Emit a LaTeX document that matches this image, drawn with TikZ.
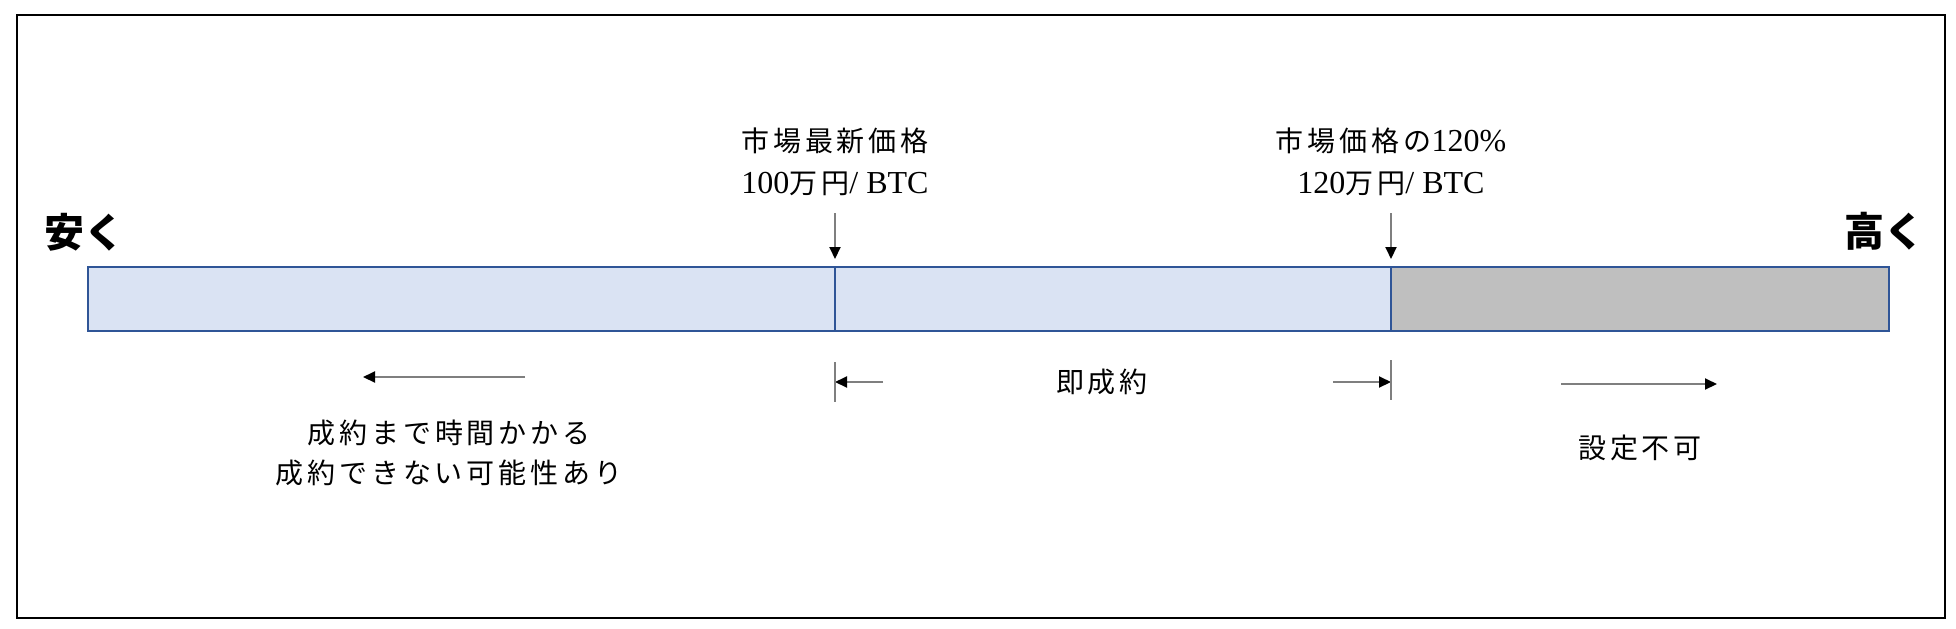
\documentclass[tikz,border=0pt]{standalone}
\usepackage{fontspec}
\setmainfont{Liberation Serif}
\newfontfamily\jpfont[LetterSpace=14]{Noto Sans CJK JP}
\newfontfamily\jphead{Noto Sans CJK JP}
\usetikzlibrary{arrows.meta,positioning}
\definecolor{barblue}{HTML}{DAE3F3}
\definecolor{barline}{HTML}{2F5597}
\definecolor{bargray}{HTML}{BFBFBF}
\definecolor{arrgray}{HTML}{7F7F7F}
\tikzset{>={Triangle[length=6pt,width=5.5pt,color=black]}}
\tikzset{seg/.style={shape=rectangle, draw=barline, line width=1.1pt, fill=barblue,
    inner sep=0pt, outer sep=0pt, minimum width=#1, minimum height=32pt}}
\tikzset{pointer/.style={->, draw=arrgray, line width=1pt}}
\tikzset{endmark/.style={draw=arrgray, line width=1pt}}
\tikzset{lab/.style={font=\fontsize{16}{21}\selectfont, align=center, inner sep=0pt}}
\tikzset{note/.style={font=\jpfont\fontsize{14}{20}\selectfont, align=center, inner sep=0pt}}
\tikzset{side/.style={font=\jphead\bfseries\fontsize{20}{24}\selectfont, inner sep=0pt}}

\begin{document}
\begin{tikzpicture}[x=0.5pt, y=-0.5pt]
  \useasboundingbox (0,0) rectangle (1956,628);
    \draw[line width=1pt] (17,15) rectangle (1945,618);

    %%%% price bar
    \node[seg=373.5pt](s1) at (461.5,299) {};
    \node[seg=278pt](s2) [right=0pt of s1] {};
    \node[seg=249pt, fill=bargray](s3) [right=0pt of s2] {};

    \node[side](cheap) at (84,232) {安く};
    \node[side](dear)  at (1884,231) {高く};

    %%%% price marks
    \node[lab](now) at (835,162) {{\jpfont\fontsize{14}{21}\selectfont 市場最新価格}\\100{\jpfont\fontsize{14}{21}\selectfont 万円}/ BTC};
    \node[lab](cap) at (1391,162) {{\jpfont\fontsize{14}{21}\selectfont 市場価格の}120\%\\120{\jpfont\fontsize{14}{21}\selectfont 万円}/ BTC};
    \coordinate (now top) at (835,213);
    \coordinate (cap top) at (1391,213);
    \draw [pointer, shorten >=4pt] (now top) to (s1.north east);
    \draw [pointer, shorten >=4pt] (cap top) to (s2.north east);

    %%%% ranges
    \coordinate (l1) at (525,377);
    \coordinate (l2) at (363,377);
    \coordinate (m1) at (883,382);
    \coordinate (m2) at (835,382);
    \coordinate (m3) at (1333,382);
    \coordinate (m4) at (1391,382);
    \coordinate (r1) at (1561,384);
    \coordinate (r2) at (1717,384);
    \coordinate (k1) at (835,362);
    \coordinate (k2) at (835,402);
    \coordinate (k3) at (1391,360);
    \coordinate (k4) at (1391,400);

    \draw [pointer] (l1) to (l2);
    \draw [pointer] (m1) to (m2);
    \draw [pointer] (m3) to (m4);
    \draw [pointer] (r1) to (r2);
    \draw [endmark] (k1) to (k2);
    \draw [endmark] (k3) to (k4);

    \node[note](slow) at (449,453) {成約まで時間かかる\\成約できない可能性あり};
    \node[note](fill) at (1102,382) {即成約};
    \node[note](deny) at (1640,448) {設定不可};

  \end{tikzpicture}
\end{document}
